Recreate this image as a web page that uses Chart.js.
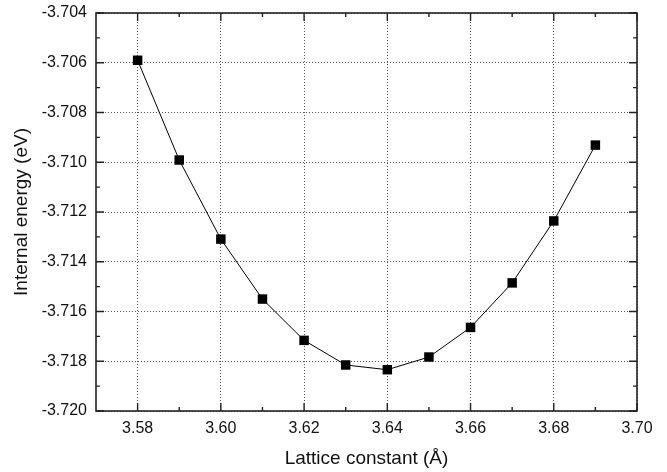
<!DOCTYPE html>
<html>
<head>
<meta charset="utf-8">
<script src="https://cdn.jsdelivr.net/npm/chart.js@4/dist/chart.umd.min.js"></script>
<style>
    body { margin: 0; background: #fff; }
    #wrap { width: 667px; height: 472px; }
</style>
</head>
<body>
<div id="wrap"><canvas id="energyChart" width="667" height="472"></canvas></div>
<script>
// Data
const latticeConstants = [3.58, 3.59, 3.60, 3.61, 3.62, 3.63, 3.64, 3.65, 3.66, 3.67, 3.68, 3.69];
const internalEnergy = [-3.70590, -3.70991, -3.71309, -3.71550, -3.71716, -3.71815, -3.71834,
    -3.71783, -3.71664, -3.71485, -3.71236, -3.70931];

// Axis ticks
const xTickValues = [3.58, 3.60, 3.62, 3.64, 3.66, 3.68, 3.70];
const xMinorTicks = [3.59, 3.61, 3.63, 3.65, 3.67, 3.69];
const yTickValues = [-3.720, -3.718, -3.716, -3.714, -3.712, -3.710, -3.708, -3.706, -3.704];
const yMinorTicks = [-3.719, -3.717, -3.715, -3.713, -3.711, -3.709, -3.707, -3.705];

const FONT = "'Liberation Sans', Arial, Helvetica, sans-serif";

// Frame box with inward tick marks on all four sides
const framePlugin = {
    id: 'frame',
    afterDraw(chart) {
        const { ctx, chartArea: a, scales } = chart;
        const x = scales.x, y = scales.y;
        ctx.save();
        ctx.strokeStyle = '#222';
        ctx.lineWidth = 1.6;
        ctx.strokeRect(a.left, a.top, a.right - a.left, a.bottom - a.top);

        ctx.lineWidth = 1.4;
        ctx.beginPath();
        const xTick = (v, len) => {
            const px = x.getPixelForValue(v);
            ctx.moveTo(px, a.bottom); ctx.lineTo(px, a.bottom - len);
            ctx.moveTo(px, a.top); ctx.lineTo(px, a.top + len);
        };
        const yTick = (v, len) => {
            const py = y.getPixelForValue(v);
            ctx.moveTo(a.left, py); ctx.lineTo(a.left + len, py);
            ctx.moveTo(a.right, py); ctx.lineTo(a.right - len, py);
        };
        xTickValues.forEach(v => xTick(v, 8));
        xMinorTicks.forEach(v => xTick(v, 4));
        yTickValues.forEach(v => yTick(v, 8));
        yMinorTicks.forEach(v => yTick(v, 4));
        ctx.stroke();
        ctx.restore();
    }
};

const ctx = document.getElementById('energyChart').getContext('2d');

new Chart(ctx, {
    type: 'line',
    data: {
        datasets: [{
            data: latticeConstants.map((lc, i) => ({ x: lc, y: internalEnergy[i] })),
            borderColor: '#000',
            borderWidth: 1,
            backgroundColor: '#000',
            pointStyle: 'rect',
            pointRadius: 6.7,
            pointBorderWidth: 0,
            fill: false,
            tension: 0
        }]
    },
    options: {
        responsive: false,
        animation: false,
        layout: { padding: { top: 13, right: 30, left: 0, bottom: 0 } },
        plugins: {
            legend: { display: false },
            tooltip: { enabled: false }
        },
        scales: {
            x: {
                type: 'linear',
                min: 3.57,
                max: 3.70,
                afterBuildTicks: (scale) => {
                    scale.ticks = xTickValues.map(v => ({ value: v }));
                },
                afterFit: (scale) => {
                    scale.height = 61;
                    scale.paddingLeft = 0;
                    scale.paddingRight = 0;
                },
                border: { display: false, dash: [1, 2] },
                grid: {
                    color: '#555',
                    lineWidth: 1,
                    drawTicks: false
                },
                ticks: {
                    autoSkip: false,
                    maxRotation: 0,
                    padding: 8,
                    color: '#111',
                    font: { family: FONT, size: 16 },
                    callback: (value) => Number(value).toFixed(2)
                },
                title: {
                    display: true,
                    text: 'Lattice constant (Å)',
                    color: '#111',
                    font: { family: FONT, size: 19 },
                    padding: { top: 0, bottom: 2 }
                }
            },
            y: {
                type: 'linear',
                min: -3.720,
                max: -3.704,
                afterBuildTicks: (scale) => {
                    scale.ticks = yTickValues.map(v => ({ value: v }));
                },
                afterFit: (scale) => {
                    scale.width = 96;
                    scale.paddingTop = 0;
                    scale.paddingBottom = 0;
                },
                border: { display: false, dash: [1, 2] },
                grid: {
                    color: '#555',
                    lineWidth: 1,
                    drawTicks: false
                },
                ticks: {
                    padding: 9,
                    color: '#111',
                    font: { family: FONT, size: 16 },
                    callback: (value) => Number(value).toFixed(3)
                },
                title: {
                    display: true,
                    text: 'Internal energy (eV)',
                    color: '#111',
                    font: { family: FONT, size: 19 },
                    padding: { top: 10, bottom: 0 }
                }
            }
        }
    },
    plugins: [framePlugin]
});
</script>
</body>
</html>
